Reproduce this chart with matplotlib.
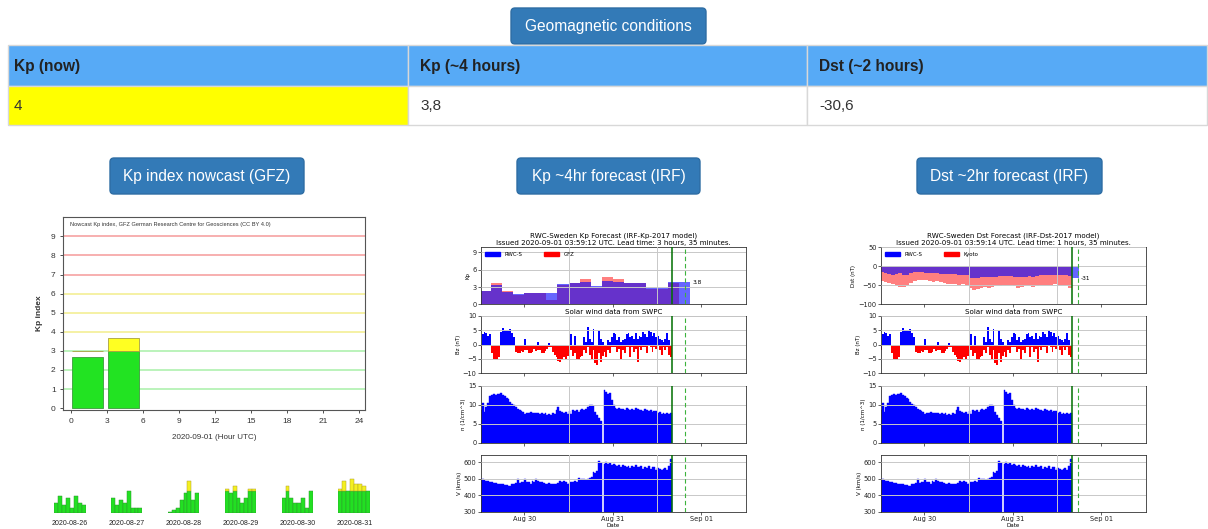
import numpy as np
import matplotlib
matplotlib.use("Agg")
import matplotlib.pyplot as plt
from matplotlib.patches import FancyBboxPatch, Rectangle, Patch

plt.rcParams["font.family"] = ["DejaVu Sans"]
plt.rcParams["axes.unicode_minus"] = True

# ---------------- data ----------------
page_title = "Geomagnetic conditions"
table_headers = ["Kp (now)", "Kp (~4 hours)", "Dst (~2 hours)"]
table_values = ["4", "3,8", "-30,6"]
panel_buttons = ["Kp index nowcast (GFZ)", "Kp ~4hr forecast (IRF)", "Dst ~2hr forecast (IRF)"]

# GFZ nowcast (today)
nowcast_title = "Nowcast Kp index, GFZ German Research Centre for Geosciences (CC BY 4.0)"
nowcast_xlabel = "2020-09-01 (Hour UTC)"
nowcast_start_h = [0, 3]
nowcast_kp = [2.67, 3.67]

# GFZ previous days (8 three-hour values each)
mini_dates = ["2020-08-26", "2020-08-27", "2020-08-28", "2020-08-29", "2020-08-30", "2020-08-31"]
kp_0826 = [1.33, 2.33, 1.0, 2.0, 0.67, 2.33, 1.33, 1.0]
kp_0827 = [2.0, 1.0, 1.67, 1.33, 3.0, 0.67, 0.67, 0.67]
kp_0828 = [0.1, 0.33, 0.67, 1.67, 2.67, 4.33, 1.67, 2.67]
kp_0829 = [3.33, 2.67, 3.67, 2.0, 1.33, 2.0, 3.33, 3.33]
kp_0830 = [2.0, 3.67, 2.0, 1.33, 1.33, 2.0, 0.67, 3.0]
kp_0831 = [3.33, 4.33, 3.0, 4.67, 4.0, 4.0, 3.67, 3.0]

# IRF forecast charts: time in hours on the chart's date axis (0 = "Aug 29")
date_tick_h = [24, 48, 72]
date_labels = ["Aug 30", "Aug 31", "Sep 01"]
grid_h = [36, 60]
view_h = (12.2, 84.1)
issue_h = 64.0
kp_lead_h = 3 + 35 / 60
dst_lead_h = 1 + 35 / 60

kp_title = ("RWC-Sweden Kp Forecast (IRF-Kp-2017 model)\n"
            "Issued 2020-09-01 03:59:12 UTC. Lead time: 3 hours, 35 minutes.")
dst_title = ("RWC-Sweden Dst Forecast (IRF-Dst-2017 model)\n"
             "Issued 2020-09-01 03:59:14 UTC. Lead time: 1 hours, 35 minutes.")

kp_block_start_h = 12
kp_block_h = 3
kp_rwc = [2.3, 3.4, 2.2, 1.8, 1.9, 1.9, 1.9, 3.5, 3.7, 3.8, 3.2, 4.0, 3.8, 3.65,
          3.75, 2.8, 2.9, 3.8, 3.8]
kp_gfz = [2.33, 3.67, 2.33, 1.67, 2.0, 2.0, 0.67, 3.33, 3.67, 4.33, 3.0, 4.67,
          4.33, 3.67, 3.67, 2.67, 2.67, 3.67]
kp_forecast_label = "3.8"

dst_start_h = 12
dst_kyoto = [-40, -42, -45, -47, -52, -54, -55, -50, -44, -38,
             -36, -35, -37, -38, -41, -40, -42, -44, -46, -46,
             -47, -48, -47, -50, -58, -63, -61, -58, -55, -56,
             -54, -52, -53, -50, -48, -50, -52, -56, -55, -53,
             -52, -55, -51, -50, -48, -50, -49, -47, -48, -49,
             -50, -58]
dst_rwc = [-16, -17, -20, -22, -20, -18, -22, -24, -18, -15,
           -15, -16, -17, -17, -18, -18, -19, -20, -20, -21,
           -21, -22, -22, -23, -30, -32, -31, -29, -28, -28,
           -29, -27, -26, -25, -25, -26, -27, -28, -27, -27,
           -26, -27, -25, -24, -24, -23, -24, -23, -23, -24,
           -24, -25]
dst_forecast = -31
dst_forecast_len_h = 2
dst_forecast_label = "-31"

# SWPC solar wind, half-hour samples
sw_start_h = 11.5
sw_step_h = 0.5
# Bz: highest (northward, blue) and lowest (southward, red) value in each half hour
bz_high = [0, 0,
           3.5, 4.2, 4.0, 3.0, 3.8,
           0, 0, 0, 0, 0,
           4.5, 5.6, 5.2, 5.0, 4.8, 5.4, 4.0, 2.5,
           0, 0, 0, 0, 0, 2.0, 0, 0, 0, 0,
           0, 0, 1.0, 0, 0, 0, 0, 0, 0.6,
           0, 0, 0, 0, 0, 0, 0, 0, 0, 0, 0,
           3.5, 0, 3.0, 0, 0, 0, 0, 2.5, 1.0,
           6.0, 2.0, 1.0, 5.5, 0, 0, 5.0, 2.0, 1.0, 0,
           0, 1.5, 1.0, 2.5, 4.0, 3.5, 1.5, 2.5, 1.0, 1.5,
           2.0, 3.5, 4.0, 2.5, 3.0, 2.0, 4.0, 2.0, 3.0, 2.5,
           4.5, 3.5, 2.5, 5.0, 4.5, 3.0, 4.0, 2.5, 3.0, 2.0,
           1.5, 1.0, 2.0, 4.0, 1.5, 0]
bz_low = [-2.0, -2.0,
          0, 0, 0, 0, 0,
          -3.0, -5.2, -5.5, -5.3, -4.5,
          0, 0, 0, 0, 0, 0, 0, 0,
          -2.5, -3.0, -2.8, -2.2, -2.5, -2.0, -2.0, -2.8, -3.0, -2.5,
          -1.5, -2.2, -1.8, -1.8, -2.8, -3.0, -2.2, -1.5, -1.0,
          -1.0, -2.5, -3.5, -4.5, -5.8, -6.2, -5.5, -4.5, -5.0, -4.0, -3.0,
          -2.0, -4.0, -3.0, -5.0, -5.5, -4.5, -4.0, -2.0, -3.0,
          -1.0, -3.5, -5.5, -2.0, -6.5, -7.0, -3.0, -6.0, -4.0, -2.5,
          -4.5, -2.0, -3.0, -1.0, -1.0, -1.0, -2.5, -1.5, -5.0, -2.0,
          -3.0, -1.0, -1.0, -4.5, -1.0, -2.5, -1.5, -6.0, -1.0, -2.0,
          -1.0, -1.0, -3.0, -0.5, -1.0, -2.5, -1.0, -1.5, -0.5, -2.0,
          -3.5, -1.0, -2.0, -1.0, -3.5, -4.5]
density = [7.8, 8.5, 10.5, 8.0, 9.5, 10.5, 12.3, 12.5, 12.8, 12.6,
           12.9, 12.7, 13.0, 12.6, 12.2, 11.8, 11.4, 10.8, 10.3, 9.9,
           9.5, 9.0, 8.6, 8.3, 8.0, 7.6, 7.9, 7.7, 8.1, 7.8,
           7.9, 7.7, 7.9, 7.6, 7.7, 7.5, 7.8, 7.4, 7.6, 7.3,
           7.7, 7.5, 8.5, 9.4, 8.3, 8.0, 7.8, 8.1, 7.5, 8.3,
           7.6, 8.6, 8.4, 8.7, 8.2, 8.6, 8.9, 8.5, 8.8, 9.4,
           10.0, 9.9, 9.7, 8.0, 7.2, 6.5, 5.8, np.nan, 14.0, 13.3,
           12.8, 13.0, 11.2, 10.0, 9.2, 9.0, 9.1, 8.8, 9.0, 8.7,
           9.2, 8.8, 8.6, 9.0, 8.7, 9.1, 8.9, 8.5, 8.6, 8.4,
           8.8, 8.5, 8.3, 8.6, 8.2, 8.4, 8.3, 7.7, 8.0, 7.6,
           7.9, 7.5, 7.8, 7.6, 7.8]
speed = [500, 498, 495, 490, 488, 485, 482, 478, 476, 474,
         470, 468, 466, 465, 462, 460, 455, 458, 465, 470,
         472, 500, 475, 480, 478, 495, 478, 482, 470, 485,
         480, 500, 483, 478, 482, 476, 470, 468, 472, 465,
         468, 470, 466, 475, 488, 482, 485, 478, 470, 475,
         480, 478, 483, 480, 505, 490, 495, 500, 492, 498,
         505, 510, 540, 535, 545, 605, 595, np.nan, 590, 598,
         590, 592, 585, 590, 582, 578, 585, 572, 580, 575,
         570, 578, 565, 575, 570, 580, 568, 572, 575, 560,
         570, 565, 575, 560, 568, 572, 555, 565, 560, 550,
         558, 565, 555, 575, 620]

# ---------------- figure ----------------
W, H = 1208, 529
fig = plt.figure(figsize=(W / 100, H / 100), dpi=100)


def rect(x0, y0, x1, y1):
    return [x0 / W, 1 - y1 / H, (x1 - x0) / W, (y1 - y0) / H]


UI_FONT = ["Liberation Sans", "DejaVu Sans"]
ui = fig.add_axes([0, 0, 1, 1], zorder=0)
ui.set_xlim(0, W)
ui.set_ylim(H, 0)
ui.axis("off")


def button(x0, y0, x1, y1, label):
    ui.add_patch(FancyBboxPatch((x0, y0), x1 - x0, y1 - y0,
                                boxstyle="round,pad=0,rounding_size=4",
                                fc="#337ab7", ec="#2e6da4", lw=1))
    ui.text((x0 + x1) / 2, (y0 + y1) / 2 + 0.5, label, color="white", fontsize=11.2,
            ha="center", va="center", family=UI_FONT)


button(511, 8, 706, 44, page_title)

col_x = [8, 408, 807, 1207]
text_x = [14, 420, 819]
for j in range(3):
    ui.add_patch(Rectangle((col_x[j], 45), col_x[j + 1] - col_x[j], 41,
                           fc="#57aaf6", ec="#d8d8d8", lw=1))
    ui.add_patch(Rectangle((col_x[j], 86), col_x[j + 1] - col_x[j], 39,
                           fc="#ffff00" if j == 0 else "white", ec="#d8d8d8", lw=1))
    ui.text(text_x[j], 66, table_headers[j], fontsize=11.2, fontweight="bold",
            va="center", color="#222222", family=UI_FONT)
    ui.text(text_x[j], 105.5, table_values[j], fontsize=11, va="center",
            color="#333333", family=UI_FONT)

button(110, 158, 304, 194, panel_buttons[0])
button(517, 158, 700, 194, panel_buttons[1])
button(917, 158, 1102, 194, panel_buttons[2])

# ---------------- GFZ nowcast ----------------
ax = fig.add_axes(rect(63.3, 217.3, 365, 410))
ax.set_xlim(-0.6, 24.5)
ax.set_ylim(-0.1, 10)
level_colors = ["#a8f0a8"] * 3 + ["#f2ee8c"] * 3 + ["#f59a9a"] * 3
for lvl, c in zip(range(1, 10), level_colors):
    ax.axhline(lvl, color=c, lw=1.1, zorder=0)
nv = np.array(nowcast_kp)
ns = np.array(nowcast_start_h)
ax.bar(ns + 1.42, np.minimum(nv, 3), width=2.58, color="#22e322",
       edgecolor="#3c9a3c", lw=0.6, zorder=2)
ax.bar(ns + 1.42, np.clip(nv - 3, 0, None), bottom=3, width=2.58, color="#ffff22",
       edgecolor="#a8a040", lw=0.6, zorder=2)
ax.set_xticks(range(0, 25, 3))
ax.set_yticks(range(10))
ax.tick_params(labelsize=6, length=2.5, width=0.6, pad=3, colors="#333333")
for lab in ax.get_xticklabels() + ax.get_yticklabels():
    lab.set_family(UI_FONT)
for s in ax.spines.values():
    s.set_linewidth(0.8)
    s.set_color("#555555")
ax.text(0.022, 0.975, nowcast_title, transform=ax.transAxes, fontsize=4.1,
        va="top", ha="left", color="#333333", family=UI_FONT)
ax.set_ylabel("Kp index", fontsize=6, fontweight="bold", family=UI_FONT, color="#333333")
ax.yaxis.set_label_coords(-0.068, 0.5)
ax.set_xlabel(nowcast_xlabel, fontsize=5.8, family=UI_FONT, color="#333333")
ax.xaxis.set_label_coords(0.5, -0.125)

# ---------------- previous days ----------------
mini_kp = [kp_0826, kp_0827, kp_0828, kp_0829, kp_0830, kp_0831]
for k, (d, vals) in enumerate(zip(mini_dates, mini_kp)):
    x0 = 54 + 56.9 * k
    m = fig.add_axes(rect(x0, 476.5, x0 + 31.5, 512.5))
    m.set_xlim(0, 24)
    m.set_ylim(0, 5)
    m.axis("off")
    v = np.array(vals)
    st = 3 * np.arange(len(v))
    m.bar(st, np.minimum(v, 3), width=3, align="edge", color="#22e022",
          edgecolor="#2f962f", lw=0.35)
    top = v > 3
    m.bar(st[top], v[top] - 3, bottom=3, width=3, align="edge", color="#f4f020",
          edgecolor="#b0a030", lw=0.35)
    m.text(0.5, -0.30, d, transform=m.transAxes, ha="center", va="center",
           fontsize=5, color="#222222", family=UI_FONT)

# ---------------- IRF forecasts ----------------
GRID = "#c8c8c8"
TFS = 4.8
LFS = 4.0


def style_panel(a, bottom=False):
    a.set_xlim(*view_h)
    a.set_xticks(date_tick_h)
    a.set_xticks(grid_h, minor=True)
    if bottom:
        a.set_xticklabels(date_labels)
    else:
        a.set_xticklabels([])
    a.tick_params(axis="both", which="major", labelsize=TFS, length=2, width=0.5,
                  pad=1, colors="#222222")
    a.tick_params(axis="x", which="minor", length=0)
    a.xaxis.grid(True, which="minor", color=GRID, lw=0.7)
    a.yaxis.grid(True, which="major", color=GRID, lw=0.7)
    a.set_axisbelow(False)
    for s in a.spines.values():
        s.set_linewidth(0.6)
        s.set_color("#333333")


def forecast_chart(x0, top_kind):
    ys = [(247.3, 304.3), (315.7, 373.3), (385.7, 442.7), (454.7, 511.7)]
    axs = [fig.add_axes(rect(x0, a, x0 + 265.3, b)) for a, b in ys]
    for i, a in enumerate(axs):
        style_panel(a, bottom=(i == 3))

    a = axs[0]
    if top_kind == "kp":
        e_g = kp_block_start_h + kp_block_h * np.arange(len(kp_gfz) + 1)
        e_r = kp_block_start_h + kp_block_h * np.arange(len(kp_rwc) + 1)
        a.stairs(kp_gfz, e_g, baseline=0, fill=True, color="#ff0000", alpha=0.5, lw=0)
        a.stairs(kp_rwc, e_r, baseline=0, fill=True, color="#0000ff", alpha=0.6, lw=0)
        a.set_ylim(0, 9.9)
        a.set_yticks([0, 3, 6, 9])
        a.set_ylabel("Kp", fontsize=LFS, labelpad=1.5)
        a.text(e_r[-1] + 0.5, kp_rwc[-1], kp_forecast_label, fontsize=4.2,
               va="center", ha="left")
        labels = ["RWC-S", "GFZ"]
        a.set_title(kp_title, fontsize=5.1, pad=1.5, linespacing=1.2)
        lead = kp_lead_h
    else:
        e_d = dst_start_h + np.arange(len(dst_kyoto) + 1)
        e_b = dst_start_h + np.arange(len(dst_rwc) + 1)
        a.stairs(dst_kyoto, e_d, baseline=0, fill=True, color="#ff0000", alpha=0.5, lw=0)
        a.stairs(dst_rwc, e_b, baseline=0, fill=True, color="#0000ff", alpha=0.6, lw=0)
        a.stairs([dst_forecast], [issue_h, issue_h + dst_forecast_len_h], baseline=0,
                 fill=True, color="#0000ff", alpha=0.6, lw=0)
        a.set_ylim(-100, 50)
        a.set_yticks([-100, -50, 0, 50])
        a.set_ylabel("Dst (nT)", fontsize=LFS, labelpad=1.5)
        a.text(issue_h + dst_forecast_len_h + 0.3, dst_forecast, dst_forecast_label,
               fontsize=4.2, va="center", ha="left")
        labels = ["RWC-S", "Kyoto"]
        a.set_title(dst_title, fontsize=5.1, pad=1.5, linespacing=1.2)
        lead = dst_lead_h
    handles = [Patch(color="#0000ff"), Patch(color="#ff0000")]
    a.legend(handles, labels, loc="upper left", ncol=2, frameon=False, fontsize=3.9,
             handlelength=2.8, handleheight=0.8, handletextpad=0.8, columnspacing=4.0,
             borderaxespad=0.4)

    # Bz
    a = axs[1]
    e = sw_start_h + sw_step_h * np.arange(len(bz_high) + 1)
    a.stairs(bz_high, e, baseline=0, fill=True, color="#0000ff", lw=0)
    a.stairs(bz_low, e, baseline=0, fill=True, color="#ff0000", lw=0)
    a.set_ylim(-10, 10)
    a.set_yticks([-10, -5, 0, 5, 10])
    a.set_ylabel("Bz (nT)", fontsize=LFS, labelpad=1.5)
    a.set_title("Solar wind data from SWPC", fontsize=5.1, pad=1.2)

    # density
    a = axs[2]
    t = sw_start_h + sw_step_h * np.arange(len(density))
    a.bar(t, density, width=sw_step_h, align="edge", color="#0000ff",
          edgecolor="#0000ff", lw=0.3)
    a.set_ylim(0, 15)
    a.set_yticks([0, 5, 10, 15])
    a.set_ylabel("n (1/cm^3)", fontsize=LFS, labelpad=1.5)

    # speed
    a = axs[3]
    t = sw_start_h + sw_step_h * np.arange(len(speed))
    a.bar(t, speed, width=sw_step_h, align="edge", color="#0000ff",
          edgecolor="#0000ff", lw=0.3)
    a.set_ylim(300, 645)
    a.set_yticks([300, 400, 500, 600])
    a.set_ylabel("V (km/s)", fontsize=LFS, labelpad=1.5)
    a.set_xlabel("Date", fontsize=LFS, labelpad=0.5)

    for a in axs:
        a.axvline(issue_h, color="#006f00", lw=1.1, zorder=4)
        a.axvline(issue_h + lead, color="#3cb33c", lw=0.8, ls=(0, (4, 2.5)), zorder=4)


forecast_chart(480.7, "kp")
forecast_chart(880.7, "dst")

fig.savefig("out.png", dpi=100, facecolor="white")
